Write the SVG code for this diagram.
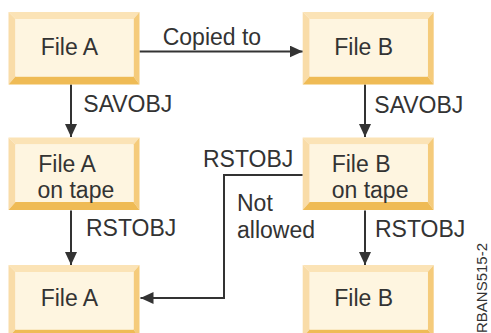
<svg xmlns="http://www.w3.org/2000/svg" width="491" height="333" viewBox="0 0 491 333">
<style>
text{font-family:"Liberation Sans",Arial,sans-serif;font-size:23px;fill:#333}
.face{fill:#fef5e0}.bt{fill:#fbe3b6}.bl{fill:#f9dca8}.br{fill:#f5cb7b}.bb{fill:#efbb55}
.ln{stroke:#333;stroke-width:2;fill:none}
</style>
<defs>
<marker id="ah" markerUnits="userSpaceOnUse" markerWidth="14" markerHeight="12" refX="13" refY="6" orient="auto"><path d="M0,0 L13,6 L0,12 z" fill="#333"/></marker>
<g id="box">
<polygon class="bt" points="0,0 131,0 125,7 7,7"/>
<polygon class="bl" points="0,0 7,7 7,64.5 0,72.5"/>
<polygon class="br" points="131,0 131,72.5 125,64.5 125,7"/>
<polygon class="bb" points="0,72.5 7,64.5 125,64.5 131,72.5"/>
<rect class="face" x="7" y="7" width="118" height="57.5"/>
</g>
</defs>
<rect width="491" height="333" fill="#fff"/>
<g id="connectors">
<line class="ln" x1="139.5" y1="51.5" x2="302.7" y2="51.5" marker-end="url(#ah)"/>
<line class="ln" x1="71" y1="84.5" x2="71" y2="137" marker-end="url(#ah)"/>
<line class="ln" x1="365" y1="84.5" x2="365" y2="137" marker-end="url(#ah)"/>
<line class="ln" x1="71" y1="210.5" x2="71" y2="265" marker-end="url(#ah)"/>
<line class="ln" x1="365" y1="210.5" x2="365" y2="265" marker-end="url(#ah)"/>
<path class="ln" d="M302.7,175 H224 V298 H140.5" marker-end="url(#ah)"/>
<text x="162.7" y="45">Copied to</text>
<text x="83.3" y="112">SAVOBJ</text>
<text x="374.3" y="113">SAVOBJ</text>
<text x="86" y="236">RSTOBJ</text>
<text x="375" y="237">RSTOBJ</text>
<text x="203" y="167">RSTOBJ</text>
<text x="237" y="211">Not</text>
<text x="237" y="238">allowed</text>
</g>
<g id="fileA1"><use href="#box" x="8.5" y="12"/><text x="40.7" y="55">File A</text></g>
<g id="fileB1"><use href="#box" x="302.7" y="12"/><text x="334.3" y="55">File B</text></g>
<g id="fileA2"><use href="#box" x="8.5" y="137.5"/><text x="38.3" y="171.7">File A</text><text x="37.5" y="198">on tape</text></g>
<g id="fileB2"><use href="#box" x="302.7" y="137.5"/><text x="331.7" y="171.7">File B</text><text x="331.7" y="198">on tape</text></g>
<g id="fileA3"><use href="#box" x="8.5" y="265"/><text x="40.7" y="305.5">File A</text></g>
<g id="fileB3"><use href="#box" x="302.7" y="265"/><text x="334.3" y="305.5">File B</text></g>
<text transform="translate(487,243) rotate(-90)" text-anchor="end" style="font-size:15px">RBANS515-2</text>
</svg>
